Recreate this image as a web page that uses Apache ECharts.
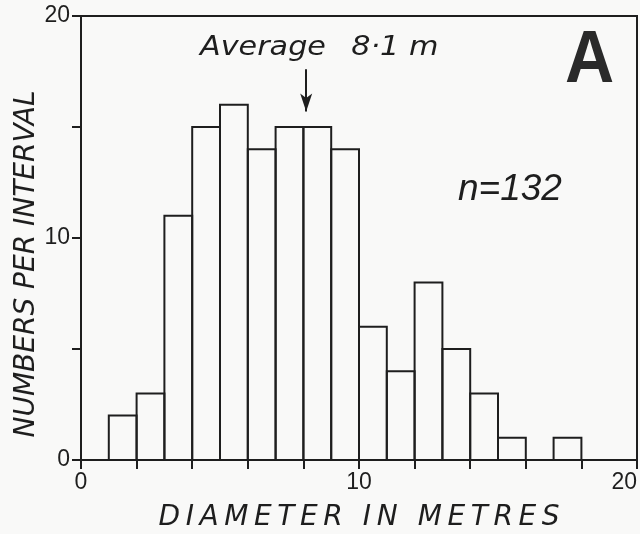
<!DOCTYPE html>
<html>
<head>
<meta charset="utf-8">
<script src="https://cdn.jsdelivr.net/npm/echarts@6/dist/echarts.min.js"></script>
<style>
  html, body { margin: 0; padding: 0; background: #f9f9f8; }
  #chart { width: 640px; height: 534px; }
</style>
</head>
<body>
<div id="chart"></div>
<script>
// Histogram of diameters, 1 m intervals
const binStarts = [1, 2, 3, 4, 5, 6, 7, 8, 9, 10, 11, 12, 13, 14, 15, 16, 17];
const counts    = [2, 3, 11, 15, 16, 14, 15, 15, 14, 6, 4, 8, 5, 3, 1, 0, 1];
const binWidth = 1;
const averageDiameter = 8.1;
const sampleSize = 132;
const xTickLabels = [0, 10, 20];
const yTickLabels = [0, 10, 20];

const ink = '#1e1e1e';
const tickFont = '"Liberation Sans Narrow", "Liberation Sans"';
const nameFont = '"DejaVu Sans"';

// spread lettering: thin spaces between letters, wider gaps between words
const spaced = s => s.split(' ').map(w => w.split('').join('\u2009')).join('\u2009 \u2009');

const histData = binStarts.map((s, i) => [s, s + binWidth, counts[i]]);

const chart = echarts.init(document.getElementById('chart'));
chart.setOption({
  backgroundColor: '#f9f9f8',
  animation: false,
  grid: {
    left: 81, right: 3, top: 16, bottom: 74,
    outerBoundsMode: 'none',
    show: true, borderColor: ink, borderWidth: 2, backgroundColor: 'transparent'
  },
  xAxis: {
    type: 'value', min: 0, max: 20, interval: 2,
    axisLine: { lineStyle: { color: ink, width: 2 } },
    axisTick: { show: true, length: 9, lineStyle: { color: ink, width: 2 } },
    splitLine: { show: false },
    axisLabel: {
      color: ink, fontSize: 23, fontFamily: tickFont, margin: 11,
      alignMaxLabel: 'right',
      formatter: v => xTickLabels.includes(v) ? String(v) : ''
    },
    name: spaced('DIAMETER IN METRES'),
    nameLocation: 'middle', nameGap: 44,
    nameTextStyle: { color: ink, fontSize: 28, fontStyle: 'italic', fontFamily: nameFont }
  },
  yAxis: {
    type: 'value', min: 0, max: 20, interval: 5,
    axisLine: { show: true, lineStyle: { color: ink, width: 2 } },
    axisTick: { show: true, length: 9, lineStyle: { color: ink, width: 2 } },
    splitLine: { show: false },
    axisLabel: {
      color: ink, fontSize: 23, fontFamily: tickFont, margin: 11,
      formatter: v => yTickLabels.includes(v) ? String(v) : ''
    },
    name: 'NUMBERS PER INTERVAL',
    nameLocation: 'middle', nameGap: 40,
    nameMoveOverlap: false,
    nameTextStyle: {
      color: ink, fontSize: 28, fontStyle: 'italic', fontFamily: nameFont,
      padding: [0, 52, 0, 0]
    }
  },
  series: [{
    type: 'custom',
    data: histData,
    encode: { x: [0, 1], y: 2 },
    renderItem: (params, api) => {
      const p0 = api.coord([api.value(0), 0]);
      const p1 = api.coord([api.value(1), api.value(2)]);
      return {
        type: 'rect',
        shape: { x: p0[0], y: p1[1], width: p1[0] - p0[0], height: p0[1] - p1[1] },
        style: { fill: 'transparent', stroke: ink, lineWidth: 2 }
      };
    },
    markLine: {
      silent: true,
      symbol: ['none', 'arrow'],
      symbolSize: [9, 18],
      lineStyle: { color: ink, width: 2, type: 'solid' },
      label: { show: false },
      data: [[{ coord: [averageDiameter, 17.6] }, { coord: [averageDiameter, 15.7] }]]
    },
    z: 2
  }],
  graphic: [
    {
      type: 'text', x: 200, y: 34, scaleX: 1.12,
      style: {
        text: 'Average  \u2009' + String(averageDiameter).replace('.', '·') + ' m',
        font: 'italic 27px "DejaVu Sans"', fill: ink, verticalAlign: 'top'
      }
    },
    {
      type: 'text', x: 565, y: 25, scaleX: 0.92,
      style: { text: 'A', font: 'bold 74px "Liberation Sans"', fill: '#2a2a2a', verticalAlign: 'top' }
    },
    {
      type: 'text', x: 458, y: 171,
      style: { text: 'n=' + sampleSize, font: 'italic 37px "Liberation Sans"', fill: ink, verticalAlign: 'top' }
    }
  ]
});
</script>
</body>
</html>
